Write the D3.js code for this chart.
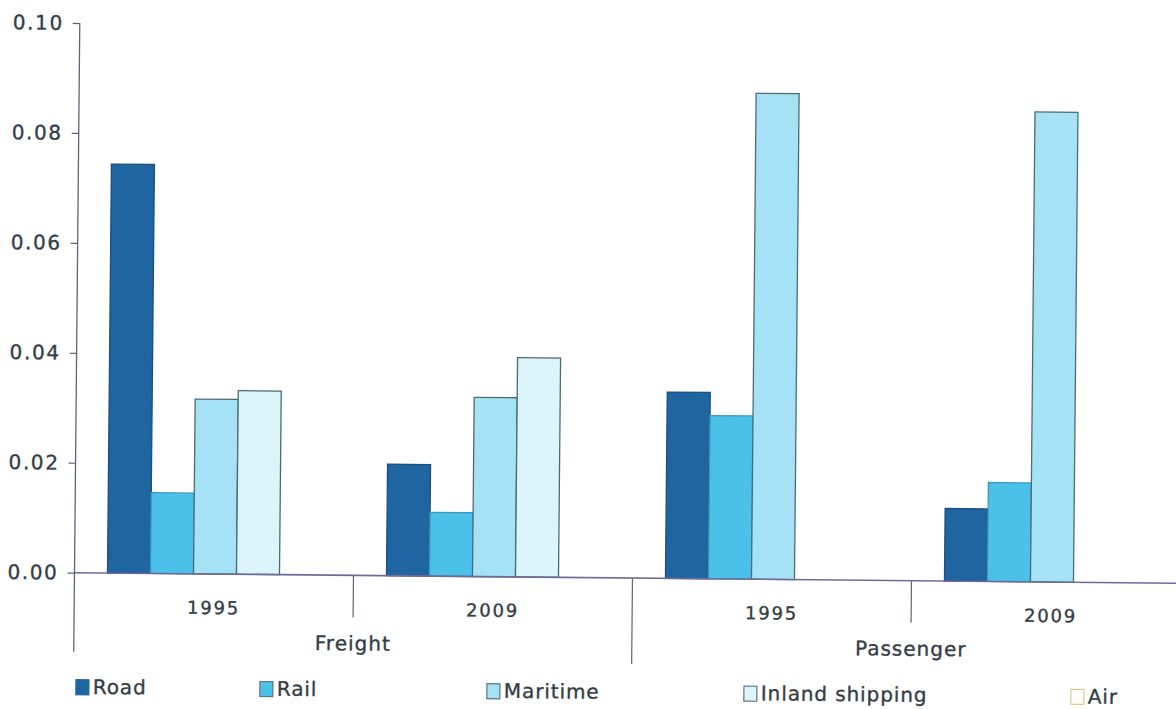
<!DOCTYPE html>
<html>
<head>
<meta charset="utf-8">
<script src="https://cdn.jsdelivr.net/npm/d3@7"></script>
<style>
  html, body { margin: 0; padding: 0; background: #fff; }
  svg { display: block; }
  text { font-family: "DejaVu Sans", Verdana, sans-serif; fill: #353c45; stroke: #353c45; stroke-width: 0.35px; }
</style>
</head>
<body>
<svg id="chart" width="1176" height="709"></svg>
<script>
// Transport modes and the two groups (Freight / Passenger), each split by year
const groups = ["Freight", "Passenger"];
const years = ["1995", "2009"];
const seriesNames = ["Road", "Rail", "Maritime", "Inland shipping", "Air"];

// Values per category, in order: Freight 1995, Freight 2009, Passenger 1995, Passenger 2009
const road     = [0.0744, 0.0203, 0.0339, 0.0132];
const rail     = [0.0147, 0.0116, 0.0297, 0.0180];
const maritime = [0.0318, 0.0326, 0.0884, 0.0855];
const inland   = [0.0334, 0.0399, 0, 0];
const air      = [0, 0, 0, 0];

const yTicks = [0, 0.02, 0.04, 0.06, 0.08, 0.10];

const seriesValues = [road, rail, maritime, inland, air];
const categories = [];
groups.forEach(g => years.forEach(y => categories.push({ group: g, year: y, key: g + "-" + y })));

const fills   = ["#1f65a2", "#4bc0e8", "#a6e2f5", "#dcf5fb", "#ffffff"];
const strokes = ["#1c4f7e", "#3d98bd", "#4c6b78", "#4d6a72", "#d8d0a0"];

const svg = d3.select("#chart");
svg.append("rect").attr("width", 1176).attr("height", 709).attr("fill", "#fff");

// Plot origin (value 0 on the axis line) and size
const ox = 74.5, oy = 572.7;
const plotW = 1116, plotH = 549.7;

// The sheet sits very slightly turned
const g = svg.append("g").attr("transform", `translate(${ox},${oy}) rotate(0.55)`);

const x0 = d3.scaleBand().domain(categories.map(c => c.key)).range([0, plotW]).padding(0);
const x1 = d3.scaleBand().domain(seriesNames).range([33, 248]).padding(0);
const y = d3.scaleLinear().domain([0, 0.10]).range([0, -plotH]);

// Bars
const bars = [];
categories.forEach((c, ci) => {
  seriesNames.forEach((s, si) => {
    const v = seriesValues[si][ci];
    if (v > 0) bars.push({ cat: c.key, s, si, v });
  });
});
g.append("g").selectAll("rect").data(bars).join("rect")
  .attr("x", d => x0(d.cat) + x1(d.s))
  .attr("y", d => y(d.v))
  .attr("width", x1.bandwidth())
  .attr("height", d => y(0) - y(d.v))
  .attr("fill", d => fills[d.si])
  .attr("stroke", d => strokes[d.si])
  .attr("stroke-width", 1.3);

// Y axis
const yAxis = d3.axisLeft(y).tickValues(yTicks).tickFormat(d3.format(".2f")).tickSize(7).tickPadding(9);
const ya = g.append("g").call(yAxis);
ya.select(".domain").remove();
ya.selectAll(".tick line").attr("stroke", "#5a6373").attr("stroke-width", 1.2);
ya.selectAll(".tick text")
  .attr("fill", "#2f3f50")
  .style("stroke", "#2f3f50")
  .style("font-size", "20px")
  .style("letter-spacing", "1.6px")
  .style("font-family", "\"DejaVu Sans\", Verdana, sans-serif");
// vertical axis line, running down past the baseline
g.append("line").attr("x1", 0).attr("x2", 0).attr("y1", y(0.10)).attr("y2", 79)
  .attr("stroke", "#5d6676").attr("stroke-width", 1.3);

// Baseline
g.append("line").attr("x1", 0).attr("x2", plotW).attr("y1", 0).attr("y2", 0)
  .attr("stroke", "#6f6a9a").attr("stroke-width", 1.6);

// Category separators: short between years, long between groups
categories.forEach((c, i) => {
  if (i === 0) return;
  const xx = x0(c.key);
  const long = c.year === years[0];
  g.append("line").attr("x1", xx).attr("x2", xx).attr("y1", 0).attr("y2", long ? 86 : 42)
    .attr("stroke", "#5d6676").attr("stroke-width", 1.2);
});

// Year labels
g.append("g").selectAll("text").data(categories).join("text")
  .attr("x", c => x0(c.key) + x0.bandwidth() / 2)
  .attr("y", 40)
  .attr("text-anchor", "middle")
  .style("font-size", "18px")
  .style("letter-spacing", "1.8px")
  .text(c => c.year);

// Group labels
g.append("g").selectAll("text").data(groups).join("text")
  .attr("x", (gr, i) => x0.bandwidth() * (2 * i + 1))
  .attr("y", 75)
  .attr("text-anchor", "middle")
  .style("font-size", "20px")
  .style("letter-spacing", "1px")
  .text(gr => gr);

// Legend
const legendX = [2.5, 186.5, 413.5, 670.5, 997.5];
const leg = g.append("g").attr("transform", "translate(0,114)");
const items = leg.selectAll("g").data(seriesNames).join("g")
  .attr("transform", (d, i) => `translate(${legendX[i]},0)`);
items.append("rect")
  .attr("x", 0).attr("y", -7).attr("width", 13).attr("height", 15)
  .attr("fill", (d, i) => fills[i])
  .attr("stroke", (d, i) => i === 0 ? "#1f65a2" : i === 4 ? "#d6cc8a" : "#5b7580")
  .attr("stroke-width", 1.2);
items.append("text")
  .attr("x", 17).attr("y", 7)
  .style("font-size", "20px")
  .style("letter-spacing", "0.9px")
  .text(d => d);
</script>
</body>
</html>
